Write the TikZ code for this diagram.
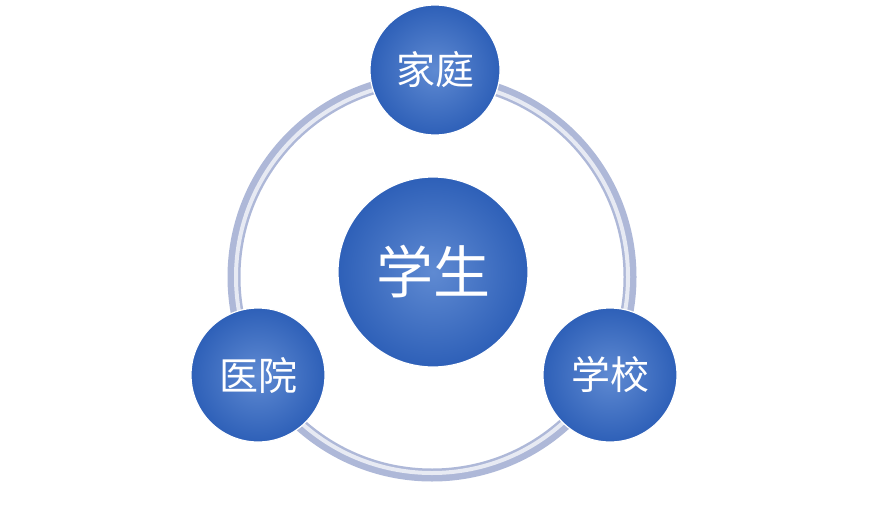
\documentclass[tikz,border=0pt]{standalone}
\usepackage{fontspec}
\usepackage{xcolor}
\usepackage{tikz}
\newfontfamily\cjk{Noto Sans CJK SC}
\definecolor{ballout}{HTML}{2E60B8}
\definecolor{ballin}{HTML}{5F8AD2}
\definecolor{ringcol}{HTML}{AEB8D8}
\tikzset{
	ball/.style={circle, draw=white, line width=1.2pt, inner sep=0pt,
		shade, inner color=ballin, outer color=ballout, text=white},
}

\begin{document}
\begin{tikzpicture}[x=1pt,y=-1pt]

	\useasboundingbox (0,0) rectangle (869,511);

	\def \cx {432}
	\def \cy {277}
	\draw[ringcol, line width=13pt] (\cx,\cy) circle (198);
	\draw[white!70!ringcol, line width=4pt] (\cx,\cy) circle (196);

	\node[ball, minimum size=190pt, font=\cjk\fontsize{57}{57}\selectfont] (student) at (433,272) {学生};
	\node[ball, minimum size=130pt, font=\cjk\fontsize{39}{39}\selectfont] (home) at (435,70) {家庭};
	\node[ball, minimum size=134pt, font=\cjk\fontsize{39}{39}\selectfont] (hospital) at (258,375) {医院};
	\node[ball, minimum size=134pt, font=\cjk\fontsize{39}{39}\selectfont] (school) at (610,375) {学校};

\end{tikzpicture}
\end{document}
